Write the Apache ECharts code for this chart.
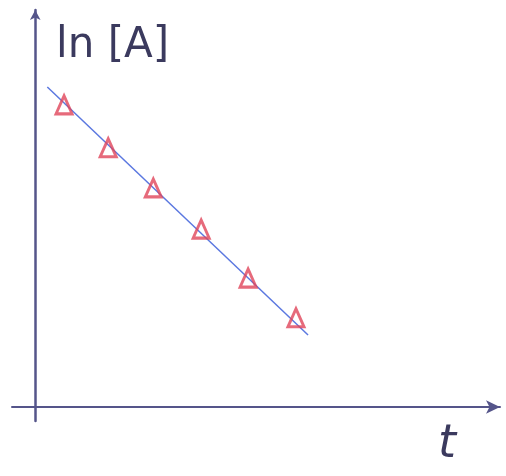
<!DOCTYPE html>
<html>
<head>
<meta charset="utf-8">
<script src="https://cdn.jsdelivr.net/npm/echarts@6/dist/echarts.min.js"></script>
<style>
html, body { margin: 0; padding: 0; background: #fff; }
#main { width: 506px; height: 476px; }
</style>
</head>
<body>
<div id="main"></div>
<script>
// measured points (t, ln[A])
var tValues = [0.62, 1.57, 2.54, 3.57, 4.58, 5.61];
var lnA = [6.47, 5.55, 4.69, 3.81, 2.76, 1.91];
// drawn fit line endpoints
var fitT = [0.26, 5.87];
var fitLnA = [6.85, 1.54];

var xName = 't';
var yName = 'ln [A]';

function pairs(xs, ys) {
    var out = [];
    for (var i = 0; i < xs.length; i++) {
        out.push([xs[i], ys[i]]);
    }
    return out;
}

var myChart = echarts.init(document.getElementById('main'));

var axisColor = '#55558a';

var option = {
    backgroundColor: '#ffffff',
    animation: false,
    grid: {left: 12, right: 6, top: 10, bottom: 55},
    xAxis: {
        type: 'value',
        min: -0.5,
        max: 10,
        splitLine: {show: false},
        axisTick: {show: false},
        axisLabel: {show: false},
        axisLine: {
            onZero: true,
            symbol: ['none', 'arrow'],
            symbolSize: [10, 14],
            lineStyle: {color: axisColor, width: 2}
        }
    },
    yAxis: {
        type: 'value',
        min: -0.3,
        max: 8.5,
        splitLine: {show: false},
        axisTick: {show: false},
        axisLabel: {show: false},
        axisLine: {
            onZero: true,
            symbol: ['none', 'arrow'],
            symbolSize: [8, 10],
            lineStyle: {color: axisColor, width: 2.5}
        }
    },
    graphic: [
        {
            type: 'text',
            left: 56,
            top: 25,
            style: {
                text: yName,
                font: '42px "DejaVu Sans"',
                fill: '#3b3a5e'
            }
        },
        {
            type: 'text',
            left: 438,
            top: 422,
            style: {
                text: xName,
                font: 'italic 46px "DejaVu Sans"',
                fill: '#3b3a5e'
            }
        }
    ],
    series: [
        {
            name: 'fit',
            type: 'line',
            data: pairs(fitT, fitLnA),
            symbol: 'none',
            lineStyle: {color: '#5b78e0', width: 1.5},
            z: 2
        },
        {
            name: 'data',
            type: 'scatter',
            data: pairs(tValues, lnA),
            symbol: 'triangle',
            symbolSize: [16, 18],
            itemStyle: {
                color: 'rgba(0,0,0,0)',
                borderColor: '#e0455a',
                borderWidth: 3
            },
            z: 3
        }
    ]
};

myChart.setOption(option);
</script>
</body>
</html>
